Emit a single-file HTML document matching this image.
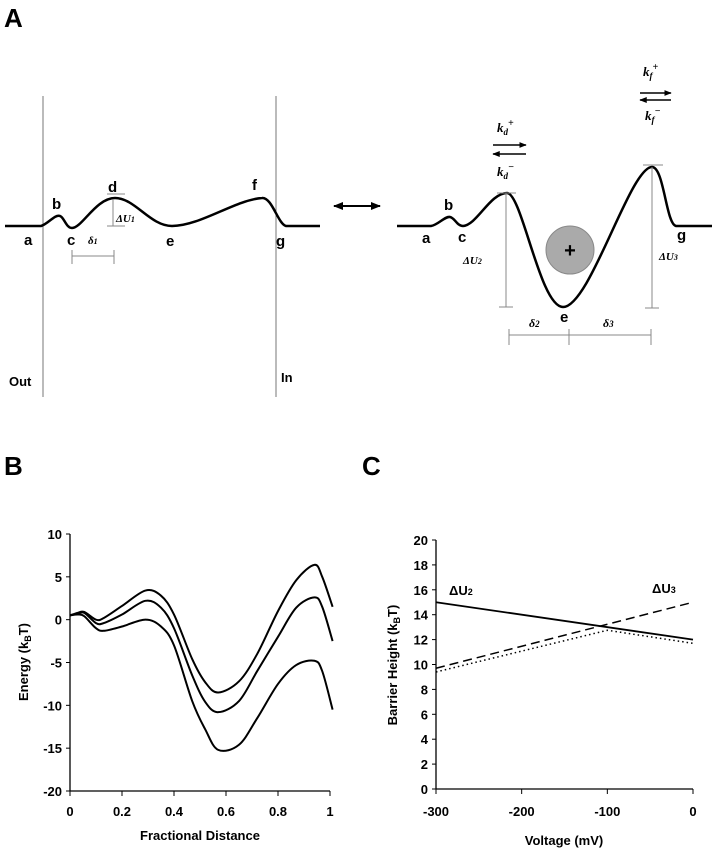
<!DOCTYPE html>
<html><head><meta charset="utf-8"><style>
body{margin:0;background:#fff;width:716px;height:853px;overflow:hidden}
svg{display:block}
text{font-family:"Liberation Sans",sans-serif}
.s{font-family:"Liberation Serif",serif;font-style:italic;font-weight:bold}
</style></head><body>
<svg width="716" height="853" viewBox="0 0 716 853">
<defs>
<marker id="ah" viewBox="0 0 10 10" refX="9" refY="5" markerWidth="5" markerHeight="5" orient="auto"><path d="M0,1L10,5L0,9z" fill="#000"/></marker>
</defs>
<g>
<text x="4" y="27" font-size="26" font-weight="bold">A</text>
<line x1="43" y1="96" x2="43" y2="397" stroke="#777"/>
<line x1="276" y1="96" x2="276" y2="397" stroke="#777"/>
<path d="M5,226 L41,226 C48,224 55,214 60,216 C64,217 66,228 72,228 C82,228 96,198 115,198 C135,198 150,226 172,226 C200,226 235,200 262,198 C272,197 278,224 286,226 L320,226" fill="none" stroke="#000" stroke-width="2.5"/>
<g font-size="15" font-weight="bold">
<text x="24" y="245">a</text><text x="52" y="209">b</text><text x="67" y="245">c</text><text x="108" y="192">d</text><text x="166" y="246">e</text><text x="252" y="190">f</text><text x="276" y="246">g</text>
</g>
<line x1="107" y1="194" x2="125" y2="194" stroke="#888"/>
<line x1="113" y1="200" x2="113" y2="226" stroke="#888"/><line x1="107" y1="226" x2="125" y2="226" stroke="#888"/>
<text x="116" y="222" class="s" font-size="11">ΔU<tspan font-size="8">1</tspan></text>
<text x="88" y="244" class="s" font-size="11">δ<tspan font-size="8">1</tspan></text>
<line x1="72" y1="256" x2="114" y2="256" stroke="#888"/><line x1="72" y1="250" x2="72" y2="264" stroke="#888"/><line x1="114" y1="250" x2="114" y2="264" stroke="#888"/>
<text x="9" y="386" font-size="13" font-weight="bold">Out</text>
<text x="281" y="382" font-size="13" font-weight="bold">In</text>
<line x1="340" y1="206" x2="380" y2="206" stroke="#000" stroke-width="2" marker-end="url(#ah)"/>
<line x1="378" y1="206" x2="334" y2="206" stroke="#000" stroke-width="2" marker-end="url(#ah)"/>
<path d="M397,226 L431,226 C438,225 445,216 450,217 C455,218 457,226 463,226 C477,225 490,193 507,193 C522,193 540,307 563,307 C590,307 630,167 652,167 C664,167 666,224 676,226 L712,226" fill="none" stroke="#000" stroke-width="2.5"/>
<circle cx="570" cy="250" r="24" fill="#aaa" stroke="#888"/>
<text x="570" y="257" font-size="20" font-weight="bold" text-anchor="middle">+</text>
<g font-size="15" font-weight="bold">
<text x="422" y="243">a</text><text x="444" y="210">b</text><text x="458" y="242">c</text><text x="560" y="322">e</text><text x="677" y="240">g</text>
</g>
<g stroke="#888">
<line x1="506" y1="193" x2="506" y2="307"/><line x1="497" y1="193" x2="516" y2="193"/><line x1="499" y1="307" x2="513" y2="307"/>
<line x1="652" y1="167" x2="652" y2="308"/><line x1="643" y1="165" x2="663" y2="165"/><line x1="645" y1="308" x2="659" y2="308"/>
<line x1="509" y1="335" x2="651" y2="335"/><line x1="509" y1="329" x2="509" y2="345"/><line x1="569" y1="329" x2="569" y2="345"/><line x1="651" y1="329" x2="651" y2="345"/>
</g>
<text x="463" y="264" class="s" font-size="11">ΔU<tspan font-size="8">2</tspan></text>
<text x="659" y="260" class="s" font-size="11">ΔU<tspan font-size="8">3</tspan></text>
<text x="529" y="327" class="s" font-size="12">δ<tspan font-size="9">2</tspan></text>
<text x="603" y="327" class="s" font-size="12">δ<tspan font-size="9">3</tspan></text>
<text x="497" y="132" class="s" font-size="13">k<tspan font-size="9" dy="3">d</tspan><tspan font-size="10" dy="-9">+</tspan></text>
<text x="497" y="176" class="s" font-size="13">k<tspan font-size="9" dy="3">d</tspan><tspan font-size="10" dy="-9">−</tspan></text>
<text x="643" y="76" class="s" font-size="13">k<tspan font-size="9" dy="3">f</tspan><tspan font-size="10" dy="-9">+</tspan></text>
<text x="645" y="120" class="s" font-size="13">k<tspan font-size="9" dy="3">f</tspan><tspan font-size="10" dy="-9">−</tspan></text>
<line x1="493" y1="145" x2="526" y2="145" stroke="#000" stroke-width="1.5" marker-end="url(#ah)"/>
<line x1="526" y1="154" x2="493" y2="154" stroke="#000" stroke-width="1.5" marker-end="url(#ah)"/>
<line x1="640" y1="93" x2="671" y2="93" stroke="#000" stroke-width="1.5" marker-end="url(#ah)"/>
<line x1="671" y1="100" x2="640" y2="100" stroke="#000" stroke-width="1.5" marker-end="url(#ah)"/>
</g>
<text x="4" y="475" font-size="26" font-weight="bold">B</text>
<text x="362" y="475" font-size="26" font-weight="bold">C</text>
<g id="chartB"></g>
<g id="chartC"></g>
</svg>
<script>
const NS='http://www.w3.org/2000/svg';
function mk(p,t,a,txt){const e=document.createElementNS(NS,t);for(const k in a)e.setAttribute(k,a[k]);if(txt!==undefined)e.textContent=txt;p.appendChild(e);return e;}
// Panel B data
const bX=[0,0.03,0.055,0.1,0.13,0.2,0.29,0.35,0.4,0.47,0.52,0.57,0.65,0.72,0.8,0.87,0.94,0.97,1.01];
const bTop=[0.5,0.8,0.9,0.0,0.2,1.6,3.4,2.8,0.6,-4.6,-7.3,-8.5,-7.2,-4.0,1.0,4.6,6.4,5.0,1.5];
const bMid=[0.5,0.7,0.8,-0.4,-0.4,0.6,2.2,1.4,-1.0,-6.5,-9.6,-10.8,-9.5,-6.0,-2.0,1.4,2.6,1.5,-2.5];
const bBot=[0.5,0.6,0.4,-1.0,-1.3,-0.8,0.0,-0.8,-3.0,-9.5,-12.8,-15.2,-14.6,-11.5,-7.5,-5.3,-4.8,-6.0,-10.5];
const bXTicks=['0','0.2','0.4','0.6','0.8','1'];
const bYTicks=['10','5','0','-5','-10','-15','-20'];
// Panel C data
const cVolt=[-300,0];
const cU2=[15,12];
const cU3=[9.7,15];
const cDotV=[-300,-100,0];
const cDot=[9.4,12.75,11.7];
const cXTicks=['-300','-200','-100','0'];
const cYTicks=['0','2','4','6','8','10','12','14','16','18','20'];

const bx=v=>70+v*260, by=v=>534+(10-v)*257/30;
const cx=v=>436+(v+300)*257/300, cy=v=>789-v*249/20;
function smooth(xs,ys,fx,fy){const p=xs.map((x,i)=>[fx(x),fy(ys[i])]);let d='M'+p[0];for(let i=0;i<p.length-1;i++){const a=p[i-1]||p[i],b=p[i],c=p[i+1],e=p[i+2]||c;const c1=[b[0]+(c[0]-a[0])/6,b[1]+(c[1]-a[1])/6],c2=[c[0]-(e[0]-b[0])/6,c[1]-(e[1]-b[1])/6];d+='C'+c1+' '+c2+' '+c;}return d;}
const B=document.getElementById('chartB');
let ax=mk(B,'path',{d:`M${bx(0)},${by(10)}V${by(-20)}H${bx(1)}`,fill:'none',stroke:'#000','stroke-width':1.3});


bYTicks.forEach(t=>{const y=by(+t);mk(B,'line',{x1:bx(0)-4,x2:bx(0),y1:y,y2:y,stroke:'#000'});const e=mk(B,'text',{x:bx(0)-8,y:y+5,'font-size':13,'font-weight':'bold','text-anchor':'end'},t);

});
bXTicks.forEach(t=>{const x=bx(+t);mk(B,'line',{x1:x,x2:x,y1:by(-20),y2:by(-20)+5,stroke:'#000'});const e=mk(B,'text',{x:x,y:by(-20)+25,'font-size':13,'font-weight':'bold','text-anchor':'middle'},t);

});
let tx=mk(B,'text',{x:200,y:840,'font-size':13,'font-weight':'bold','text-anchor':'middle'},'Fractional Distance');


tx=mk(B,'text',{transform:'translate(28,662) rotate(-90)','font-size':13,'font-weight':'bold','text-anchor':'middle'});
tx.innerHTML='Energy (k<tspan font-size="9" dy="3">B</tspan><tspan dy="-3">T)</tspan>';


[[bTop,'energy-curve-top'],[bMid,'energy-curve-middle'],[bBot,'energy-curve-bottom']].forEach(([s,n])=>{const e=mk(B,'path',{d:smooth(bX,s,bx,by),fill:'none',stroke:'#000','stroke-width':2});

});
const C=document.getElementById('chartC');
ax=mk(C,'path',{d:`M${cx(-300)},${cy(20)}V${cy(0)}H${cx(0)}`,fill:'none',stroke:'#000','stroke-width':1.3});


cYTicks.forEach(t=>{const y=cy(+t);mk(C,'line',{x1:cx(-300)-4,x2:cx(-300),y1:y,y2:y,stroke:'#000'});const e=mk(C,'text',{x:cx(-300)-8,y:y+5,'font-size':13,'font-weight':'bold','text-anchor':'end'},t);

});
cXTicks.forEach(t=>{const x=cx(+t);mk(C,'line',{x1:x,x2:x,y1:cy(0),y2:cy(0)+5,stroke:'#000'});const e=mk(C,'text',{x:x,y:cy(0)+27,'font-size':13,'font-weight':'bold','text-anchor':'middle'},t);

});
tx=mk(C,'text',{x:564,y:845,'font-size':13,'font-weight':'bold','text-anchor':'middle'},'Voltage (mV)');


tx=mk(C,'text',{transform:'translate(397,665) rotate(-90)','font-size':13,'font-weight':'bold','text-anchor':'middle'});
tx.innerHTML='Barrier Height (k<tspan font-size="9" dy="3">B</tspan><tspan dy="-3">T)</tspan>';


const pl=(xs,ys)=>xs.map((x,i)=>cx(x)+','+cy(ys[i])).join(' ');
let l=mk(C,'polyline',{points:pl(cDotV,cDot),fill:'none',stroke:'#000','stroke-width':1.5,'stroke-dasharray':'1.5 3'});


l=mk(C,'polyline',{points:pl(cVolt,cU2),fill:'none',stroke:'#000','stroke-width':1.8});


l=mk(C,'polyline',{points:pl(cVolt,cU3),fill:'none',stroke:'#000','stroke-width':1.5,'stroke-dasharray':'9 5'});


tx=mk(C,'text',{x:449,y:595,'font-size':13,'font-weight':'bold','font-family':'Liberation Serif,serif'});
tx.innerHTML='ΔU<tspan font-size="9">2</tspan>';


tx=mk(C,'text',{x:652,y:593,'font-size':13,'font-weight':'bold','font-family':'Liberation Serif,serif'});
tx.innerHTML='ΔU<tspan font-size="9">3</tspan>';


</script>
</body></html>
